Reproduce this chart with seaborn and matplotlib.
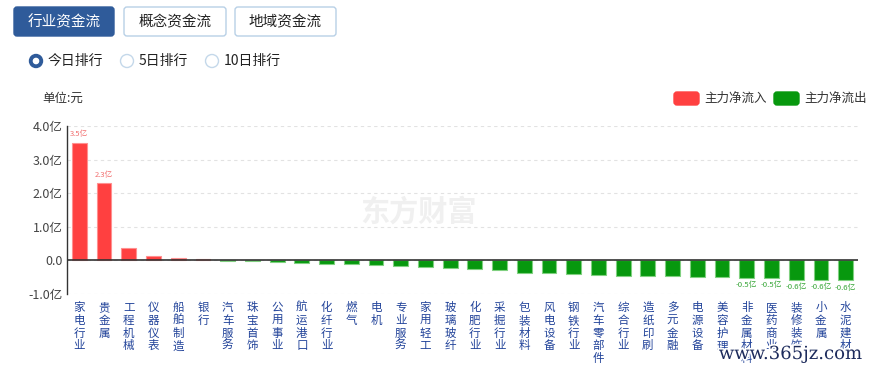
import matplotlib
matplotlib.use("Agg")
import matplotlib.pyplot as plt
import matplotlib.patheffects as pe
from matplotlib.patches import FancyBboxPatch, Circle
from matplotlib.transforms import Affine2D
import numpy as np
import pandas as pd
import seaborn as sns

industries = ['家电行业', '贵金属', '工程机械', '仪器仪表', '船舶制造', '银行', '汽车服务',
              '珠宝首饰', '公用事业', '航运港口', '化纤行业', '燃气', '电机', '专业服务',
              '家用轻工', '玻璃玻纤', '化肥行业', '采掘行业', '包装材料', '风电设备',
              '钢铁行业', '汽车零部件', '综合行业', '造纸印刷', '多元金融', '电源设备',
              '美容护理', '非金属材料', '医药商业', '装修装饰', '小金属', '水泥建材']
# 主力净流入, 单位: 亿元
flows = [3.50, 2.30, 0.38, 0.14, 0.07, 0.04, -0.01,
         -0.03, -0.05, -0.07, -0.10, -0.10, -0.15, -0.16,
         -0.19, -0.23, -0.27, -0.28, -0.37, -0.37,
         -0.39, -0.43, -0.46, -0.46, -0.47, -0.48,
         -0.49, -0.52, -0.52, -0.58, -0.58, -0.59]
# which bars carry a value label
labelled = [0, 1, 27, 28, 29, 30, 31]

yticks = [-1, 0, 1, 2, 3, 4]
ytick_labels = ['-1.0亿', '0.0', '1.0亿', '2.0亿', '3.0亿', '4.0亿']

RED = '#ff4040'
GREEN = '#07980e'

df = pd.DataFrame({'industry': industries, 'flow': flows})
df['dir'] = np.where(df['flow'] >= 0, '主力净流入', '主力净流出')

sns.set_style('white')
plt.rcParams['font.family'] = ['Noto Sans CJK SC', 'DejaVu Sans']

fig = plt.figure(figsize=(8.7, 3.69), dpi=100)
# pixel coords, origin top-left
px = Affine2D().scale(1 / 100, -1 / 100).translate(0, 3.69) + fig.dpi_scale_trans

ax = fig.add_axes([67 / 870, 1 - 294 / 369, (858 - 67) / 870, (294 - 126) / 369])
sns.barplot(data=df, x='industry', y='flow', hue='dir',
            palette={'主力净流入': RED, '主力净流出': GREEN}, saturation=1,
            dodge=False, width=0.6, legend=False, ax=ax, linewidth=0.8)
for p in ax.patches:
    h = p.get_height()
    p.set_edgecolor('#ff9090' if h >= 0 else '#80d080')

ax.set_ylim(-1, 4)
ax.set_xlim(-0.5, len(industries) - 0.5)
ax.set_yticks(yticks)
ax.set_yticklabels(ytick_labels, color='#444444', fontsize=9)
ax.set_xticks(range(len(industries)))
ax.set_xticklabels(['\n'.join(s) for s in industries], color='#23449a',
                   fontsize=8.3, linespacing=0.98, va='top')
ax.tick_params(axis='x', length=0, pad=5)
ax.tick_params(axis='y', length=0, pad=3)
ax.set_xlabel('')
ax.set_ylabel('')
for s in ['top', 'right', 'bottom']:
    ax.spines[s].set_visible(False)
ax.spines['left'].set_color('#333333')
ax.spines['left'].set_linewidth(1)
ax.yaxis.grid(True, color='#e2e2e2', linestyle=(0, (3, 3)), linewidth=0.8)
ax.set_axisbelow(True)
ax.axhline(0, color='#333333', linewidth=1.2, zorder=3)

for i in labelled:
    v = flows[i]
    if v >= 0:
        ax.text(i, v + 0.13, f'{v:.1f}亿', ha='center', va='bottom',
                fontsize=5.5, color='#f27070')
    else:
        ax.text(i, v - 0.1, f'{v:.1f}亿', ha='center', va='top',
                fontsize=5.6, color='#35a535')

# 水印
ax.text(0.445, 0.49, '东方财富', transform=ax.transAxes, ha='center', va='center',
        fontsize=21, fontweight='bold', color='#f0f0f0', zorder=0)

# tab buttons
tabs = [('行业资金流', 14, 100, True), ('概念资金流', 124, 102, False), ('地域资金流', 235, 101, False)]
for name, x0, w, active in tabs:
    fig.add_artist(FancyBboxPatch((x0, 7), w, 29, boxstyle='round,pad=0,rounding_size=3',
                                  transform=px, facecolor='#2f5b9a' if active else 'white',
                                  edgecolor='#2f5b9a' if active else '#b8d0e6', linewidth=1))
    fig.text(x0 + w / 2, 22, name, transform=px, ha='center', va='center',
             fontsize=10.5, color='white' if active else '#222222')

# radio buttons
radios = [('今日排行', 36, True), ('5日排行', 127, False), ('10日排行', 212, False)]
for name, cx, on in radios:
    if on:
        fig.add_artist(Circle((cx, 61), 6.5, transform=px, facecolor='#2f5b9a', edgecolor='#2f5b9a'))
        fig.add_artist(Circle((cx, 61), 2.6, transform=px, facecolor='white', edgecolor='white'))
    else:
        fig.add_artist(Circle((cx, 61), 6.5, transform=px, facecolor='white',
                              edgecolor='#c4d8ea', linewidth=1))
    fig.text(cx + 12, 61, name, transform=px, ha='left', va='center', fontsize=10, color='#222222')

fig.text(42, 98, '单位:元', transform=px, ha='left', va='center', fontsize=9, color='#333333')

# legend
for label, color, x0 in [('主力净流入', RED, 674), ('主力净流出', GREEN, 774)]:
    fig.add_artist(FancyBboxPatch((x0, 92), 25, 13, boxstyle='round,pad=0,rounding_size=3',
                                  transform=px, facecolor=color, edgecolor=color))
    fig.text(x0 + 30, 98.5, label, transform=px, ha='left', va='center', fontsize=9, color='#333333')

fig.text(862, 354, 'www.365jz.com', transform=px, ha='right', va='center',
         fontsize=13, color='#1d2b5c', family=['DejaVu Serif'],
         path_effects=[pe.withStroke(linewidth=2.5, foreground='white')])

fig.savefig('out.png', dpi=100)
